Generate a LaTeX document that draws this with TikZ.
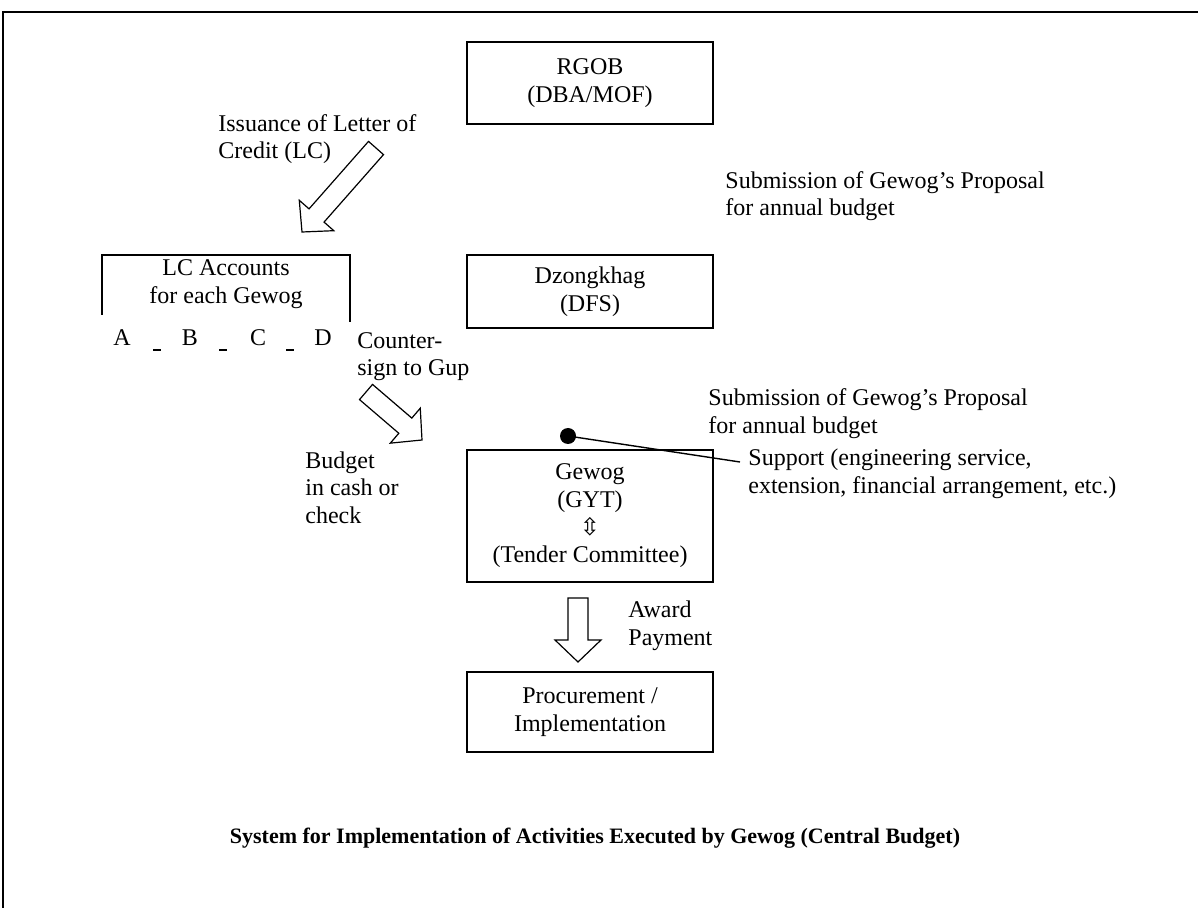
\documentclass[tikz,border=0pt]{standalone}
\usepackage{fontspec}
\setmainfont{Liberation Serif}
\newfontfamily\arrowfont{DejaVu Sans}
\usetikzlibrary{positioning, calc}

\newcommand{\hollowarrow}[2]{%
  \coordinate (hb) at ($(#2)!11pt!(#1)$);
  \draw[fatarr] ($(#1)!5pt!90:(#2)$) -- ($(hb)!5pt!90:(#2)$) -- ($(hb)!11.5pt!90:(#2)$) -- (#2)
    -- ($(hb)!11.5pt!-90:(#2)$) -- ($(hb)!5pt!-90:(#2)$) -- ($(#1)!5pt!-90:(#2)$) -- cycle;}

\begin{document}
\begin{tikzpicture}[x=0.5pt, y=-0.5pt,
	font=\fontsize{12}{13.8}\selectfont,
	orgbox/.style={draw, line width=0.6pt, minimum width=123pt, align=center},
	lbl/.style={align=left, anchor=west, inner sep=0pt},
	fatarr/.style={draw, line width=0.6pt, fill=white, line join=miter}]
	\useasboundingbox (0,0) rectangle (1198,908);
	\draw[line width=0.8pt] (3,908) -- (3,12) -- (1198,12);

	\node[orgbox, minimum height=41pt] (rgob) at (590,83) {RGOB\\(DBA/MOF)};
	\node[orgbox, minimum height=36.5pt] (dzong) at (590,291.5) {Dzongkhag\\(DFS)};
	\node[orgbox, minimum height=66pt] (gewog) at (590,516) {Gewog\\(GYT)\\{\arrowfont ⇳}\\(Tender Committee)};
	\node[orgbox, minimum height=40pt] (proc) at (590,712) {Procurement /\\Implementation};

	\node[align=center, inner sep=0pt] (lcacc) at (226,284) {LC Accounts\\for each Gewog};
	\draw[line width=0.6pt] (102,315) -- (102,255) -- (350,255) -- (350,322);
	\node (acA) at (122,338) {A};
	\node (acB) at (190,338) {B};
	\node (acC) at (258,338) {C};
	\node (acD) at (323,338) {D};
	\foreach \x in {157,223,290}
		\draw[line width=0.6pt] (\x-4,350) -- (\x+4,350);

	\node[lbl] (issue) at (218,139) {Issuance of Letter of\\Credit (LC)};
	\node[lbl] (subone) at (725,196) {Submission of Gewog's Proposal\\for annual budget};
	\node[lbl] (counter) at (357,356.5) {Counter-\\sign to Gup};
	\node[lbl] (subtwo) at (708,413.5) {Submission of Gewog's Proposal\\for annual budget};
	\node[lbl] (budget) at (305,487.5) {Budget\\in cash or\\check};
	\node[lbl] (support) at (748,473.5) {Support (engineering service,\\extension, financial arrangement, etc.)};
	\node[lbl] (award) at (628,626) {Award\\Payment};
	\node[font=\fontsize{11}{13}\selectfont\bfseries] (title) at (595,838)
		{System for Implementation of Activities Executed by Gewog (Central Budget)};

	\coordinate (lctail) at (376,148);
	\coordinate (lctip) at (302,232);
	\hollowarrow{lctail}{lctip}
	\coordinate (cashtail) at (366,392);
	\coordinate (cashtip) at (422,440);
	\hollowarrow{cashtail}{cashtip}
	\coordinate (awardtail) at (578,598);
	\coordinate (awardtip) at (578,662);
	\hollowarrow{awardtail}{awardtip}

	\node[circle, fill, inner sep=0pt, minimum size=8pt] (dot) at (568,436) {};
	\coordinate (suppend) at (740,462);
	\draw[line width=0.7pt] (dot.center) -- (suppend);
\end{tikzpicture}
\end{document}
